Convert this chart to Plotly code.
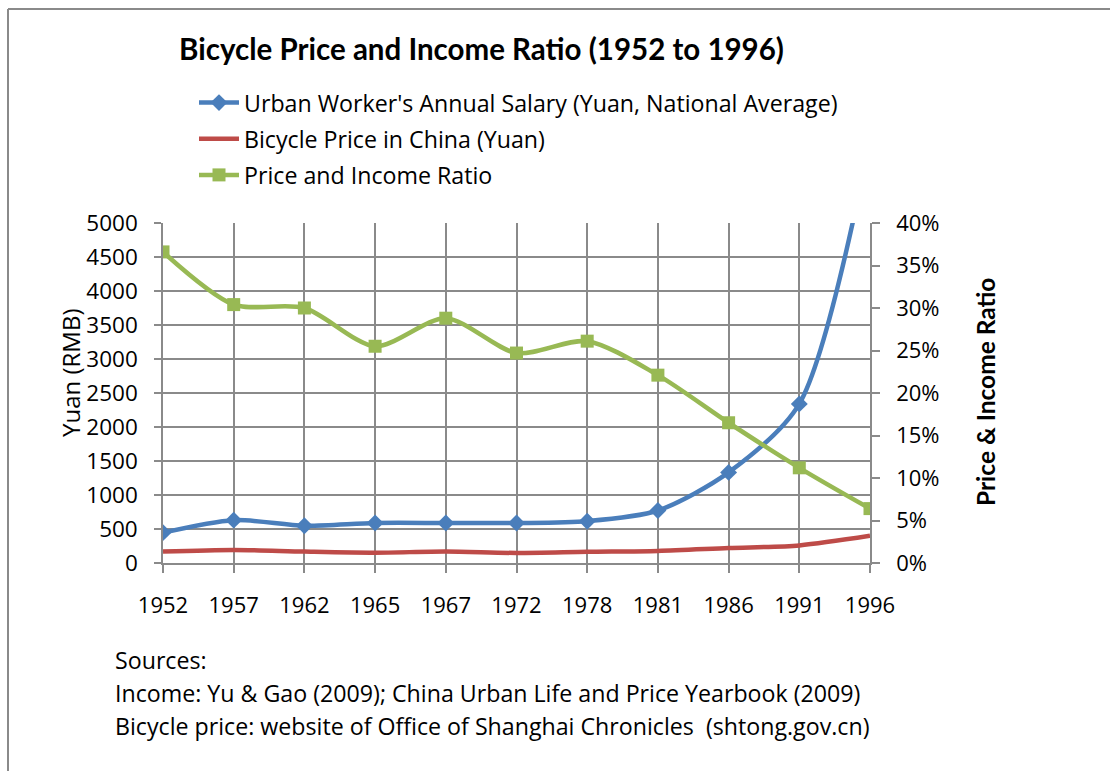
import plotly.graph_objects as go

years = ["1952", "1957", "1962", "1965", "1967", "1972", "1978", "1981", "1986", "1991", "1996"]
salary = [446, 630, 548, 588, 588, 588, 615, 772, 1332, 2340, 6210]
bike_price = [168, 192, 168, 152, 168, 148, 165, 178, 220, 259, 400]
ratio = [0.366, 0.304, 0.300, 0.255, 0.288, 0.247, 0.261, 0.221, 0.165, 0.112, 0.064]

xpos = list(range(len(years)))
FONT = "Open Sans"
TFONT = "Lato"
GRID = "#8a8a8a"

fig = go.Figure()
fig.add_trace(go.Scatter(
    x=xpos, y=salary, name="Urban Worker's Annual Salary (Yuan, National Average)",
    mode="lines+markers", line=dict(color="#4a7ebb", width=4.5, shape="spline", smoothing=0.8),
    marker=dict(symbol="diamond", size=13, color="#4a7ebb"), legendgroup="a", cliponaxis=True))
fig.add_trace(go.Scatter(
    x=xpos, y=bike_price, name="Bicycle Price in China (Yuan)",
    mode="lines", line=dict(color="#be4b48", width=4.5, shape="spline", smoothing=0.8),
    legendgroup="b"))
fig.add_trace(go.Scatter(
    x=xpos, y=ratio, name="Price and Income Ratio", yaxis="y2",
    mode="lines+markers", line=dict(color="#98b954", width=4.5, shape="spline", smoothing=0.8),
    marker=dict(symbol="square", size=13, color="#98b954"), legendgroup="c"))

L, R, T, B = 163, 870, 223, 563
W, H = 1110, 771
pw, ph = R - L, B - T
def px(x):
    return (x - L) / pw
def py(y):
    return (B - y) / ph

fig.update_layout(
    width=W, height=H,
    margin=dict(l=L, r=W - R, t=T, b=H - B, pad=0),
    paper_bgcolor="white", plot_bgcolor="white",
    font=dict(family=FONT, size=22, color="black"),
    title=dict(text="<b>Bicycle Price and Income Ratio (1952 to 1996)</b>",
               font=dict(family=TFONT, size=29.5, color="black"),
               x=481.5 / W, xanchor="center", y=1 - 50 / H, yanchor="middle", xref="container"),
    showlegend=True,
    legend=dict(x=px(194), xanchor="left", y=py(81), yanchor="top",
                font=dict(family=FONT, size=23.2, color="black"),
                traceorder="grouped", tracegroupgap=3, bgcolor="rgba(0,0,0,0)",
                itemwidth=40),
    xaxis=dict(range=[0, 10], tickmode="array", tickvals=xpos, ticktext=years,
               showgrid=True, gridcolor=GRID, gridwidth=1.5, zeroline=False,
               showline=True, linecolor=GRID, linewidth=1.5,
               ticks="outside", ticklen=8, tickcolor=GRID, tickwidth=1.5,
               ticklabelstandoff=14, tickfont=dict(size=22)),
    yaxis=dict(range=[0, 5000], dtick=500, tick0=0,
               showgrid=True, gridcolor=GRID, gridwidth=1.5, zeroline=False,
               showline=True, linecolor=GRID, linewidth=1.5,
               ticks="outside", ticklen=7, tickcolor=GRID, tickwidth=1.5,
               ticklabelstandoff=12, tickfont=dict(size=22.5)),
    yaxis2=dict(range=[0, 0.4], dtick=0.05, tick0=0, tickformat=".0%",
                overlaying="y", side="right", showgrid=False, zeroline=False,
                showline=True, linecolor=GRID, linewidth=1.5,
                ticks="outside", ticklen=8, tickcolor=GRID, tickwidth=1.5,
                ticklabelstandoff=12, tickfont=dict(size=22)),
)

annotations = [
    dict(text="Yuan (RMB)", x=px(70), y=py(373), textangle=-90, font=dict(size=24)),
    dict(text="<b>Price &amp; Income Ratio</b>", x=px(985), y=py(392), textangle=-90,
         font=dict(family=TFONT, size=24.5)),
    dict(text="Sources:", x=px(113), y=py(660), xanchor="left", font=dict(size=23.2)),
    dict(text="Income: Yu &amp; Gao (2009); China Urban Life and Price Yearbook (2009)", x=px(113), y=py(693), xanchor="left", font=dict(size=23.2)),
    dict(text="Bicycle price: website of Office of Shanghai Chronicles  (shtong.gov.cn)", x=px(113), y=py(726), xanchor="left", font=dict(size=23.2)),
]
for a in annotations:
    a.update(xref="paper", yref="paper", showarrow=False, yanchor="middle")
    a.setdefault("xanchor", "center")
fig.update_layout(annotations=annotations)

fig.add_shape(type="line", xref="paper", yref="paper", x0=px(8), x1=px(8), y0=py(9), y1=py(780),
              line=dict(color="#8a8a8a", width=2))
fig.add_shape(type="line", xref="paper", yref="paper", x0=px(8), x1=px(1120), y0=py(9), y1=py(9),
              line=dict(color="#8a8a8a", width=2))

fig.write_html("out.html", config={"displayModeBar": False},
               post_script="document.body.style.margin='0px';document.body.style.overflow='hidden';")
